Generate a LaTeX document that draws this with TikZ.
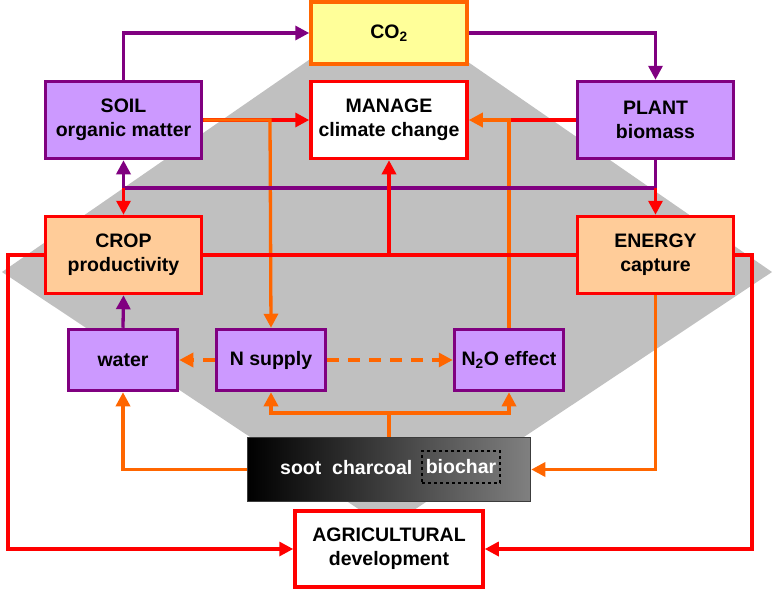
\documentclass[tikz,border=0pt]{standalone}
\usepackage{fontspec}
\setmainfont{Liberation Sans}
\usetikzlibrary{arrows.meta,shadings}
\definecolor{cpur}{HTML}{800080}
\definecolor{cpurf}{HTML}{CC99FF}
\definecolor{cora}{HTML}{FF6600}
\definecolor{cred}{HTML}{FF0000}
\definecolor{cpeach}{HTML}{FFCC99}
\definecolor{cyel}{HTML}{FFFF99}
\begin{document}
\begin{tikzpicture}[x=1pt,y=-1pt,
  every node/.style={font=\fontsize{19.5}{24}\selectfont\bfseries, align=center, inner sep=0pt},
  pbox/.style={draw=cpur, fill=cpurf, line width=3.5pt},
  rbox/.style={draw=cred, line width=3.5pt},
  big/.style={minimum width=156pt, minimum height=77pt},
  small/.style={minimum width=109pt, minimum height=61pt},
  arr/.style={line width=3.3pt, -{Triangle[length=14pt,width=14pt]}},
  ln/.style={line width=3.3pt},
  P/.style={draw=cpur},
  O/.style={draw=cora},
  R/.style={draw=cred}]
\useasboundingbox (0,0) rectangle (774,590);
\fill[fill={rgb,255:red,192;green,192;blue,192}] (2,272) -- (387,6) -- (772,272) -- (387,528) -- cycle;

\node[minimum width=156pt, minimum height=62pt, draw=cora, fill=cyel, line width=3.5pt] (co2) at (389,33) {CO\textsubscript{2}};
\node[big, pbox] (soil) at (123.5,120) {SOIL\\organic matter};
\node[big, rbox, fill=white] (manage) at (389,120) {MANAGE\\climate change};
\node[big, pbox] (plant) at (655.5,120) {PLANT\\biomass};
\node[big, rbox, fill=cpeach] (crop) at (123.5,255) {CROP\\productivity};
\node[big, rbox, fill=cpeach] (energy) at (655.5,255) {ENERGY\\capture};
\node[small, pbox] (water) at (123,360) {water};
\node[small, pbox] (nsup) at (271,360) {N supply};
\node[small, pbox] (n2o) at (509,360) {N\textsubscript{2}O effect};
\node[minimum width=283pt, minimum height=64pt, left color=black, right color={rgb,255:red,128;green,128;blue,128}, draw={rgb,255:red,60;green,60;blue,60}, line width=1.5pt] (char) at (389,469.5) {};
\node[text=white, anchor=west] (soot) at (280,468) {soot\ \ charcoal};
\node[draw=black, dashed, line width=1.5pt, text=white, minimum width=78pt, minimum height=32pt] (bio) at (461,467) {biochar};
\node[rbox, fill=white, minimum width=188pt, minimum height=76pt] (agri) at (389,549) {AGRICULTURAL\\development};

% purple top loop
\draw[arr,P] (soil.north) |- (co2.west);
\draw[arr,P] (co2.east) -| (plant.north);
% soil/plant -> manage
\draw[arr,R] (soil.east) -- (manage.west);
\draw[arr,O] (soil.east) -- (270,120) -- (nsup.north);
\draw[ln,R] (plant.west) -- (510,120);
\draw[arr,O] (n2o.north) |- (manage.east);
% middle purple bar
\coordinate (lb) at (123.5,188);
\coordinate (rb) at (655.5,188);
\draw[ln,P] (plant.south) -- (rb) -- (lb);
\draw[arr,P] (lb) -- (soil.south);
\draw[arr,R] (lb) -- (crop.north);
\draw[arr,R] (rb) -- (energy.north);
% crop-energy bar
\draw[ln,R] (crop.east) -- (energy.west);
\draw[arr,R] (389,255) -- (manage.south);
% outer loops
\draw[arr,R] (crop.west) -- (8,255) |- (agri.west);
\draw[arr,R] (energy.east) -- (752,255) |- (agri.east);
% lower
\draw[arr,P] (water.north) -- (crop.south);
\draw[arr,O,dash pattern=on 12pt off 9pt] (nsup.west) -- (water.east);
\draw[arr,O,dash pattern=on 12pt off 9pt] (nsup.east) -- (n2o.west);
\draw[ln,O] (char.north) -- (389,413);
\draw[arr,O] (389,413) -| (nsup.south);
\draw[arr,O] (389,413) -| (n2o.south);
\draw[arr,O] (char.west) -| (water.south);
\draw[arr,O] (energy.south) |- (char.east);
\end{tikzpicture}
\end{document}
